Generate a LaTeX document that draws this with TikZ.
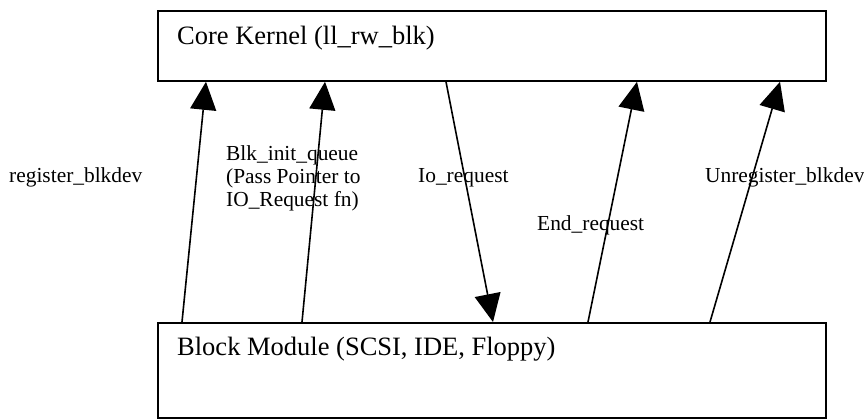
\documentclass[tikz,border=0pt]{standalone}
\usepackage{fontspec}
\setmainfont{Liberation Serif}
\usetikzlibrary{arrows.meta,calc}

\tikzset{
  box/.style={draw=black, line width=1.8pt, rectangle, anchor=north west, inner sep=0pt},
  boxtext/.style={anchor=base west, inner sep=0pt, font=\fontsize{26.5}{30}\selectfont},
  calltext/.style={anchor=base west, inner sep=0pt, align=left, font=\fontsize{21.4}{23}\selectfont},
  call/.style={line width=1.6pt, -{Triangle[length=28pt,width=26pt]}}
}

\begin{document}
\begin{tikzpicture}[x=1pt,y=-1pt]
  \useasboundingbox (0,0) rectangle (864,419);

  % the two layers
  \node[box, minimum width=668pt, minimum height=70pt] (core) at (157,10) {};
  \node[boxtext] (coretext) at ($(core.north west)+(20,35)$) {Core Kernel (ll\_rw\_blk)};

  \node[box, minimum width=668pt, minimum height=95pt] (blk) at (157,322) {};
  \node[boxtext] (blktext) at ($(blk.north west)+(20,33)$) {Block Module (SCSI, IDE, Floppy)};

  % calls between the layers
  \draw[call] ($(blk.north west)+(25,0)$)  -- ($(core.south west)+(49,0)$);
  \draw[call] ($(blk.north west)+(145,0)$) -- ($(core.south west)+(168,0)$);
  \draw[call] ($(core.south west)+(289,0)$) -- ($(blk.north west)+(336,0)$);
  \draw[call] ($(blk.north west)+(431,0)$) -- ($(core.south west)+(480,0)$);
  \draw[call] ($(blk.north west)+(553,0)$) -- ($(core.south west)+(623,0)$);

  % call names
  \node[calltext] (lreg)   at (9,183)   {register\_blkdev};
  \node[calltext] (linit)  at (226,207) {Blk\_init\_queue\\(Pass Pointer to\\IO\_Request fn)};
  \node[calltext] (lio)    at (418,183) {Io\_request};
  \node[calltext] (lend)   at (537,231) {End\_request};
  \node[calltext] (lunreg) at (705,183) {Unregister\_blkdev};
\end{tikzpicture}
\end{document}
